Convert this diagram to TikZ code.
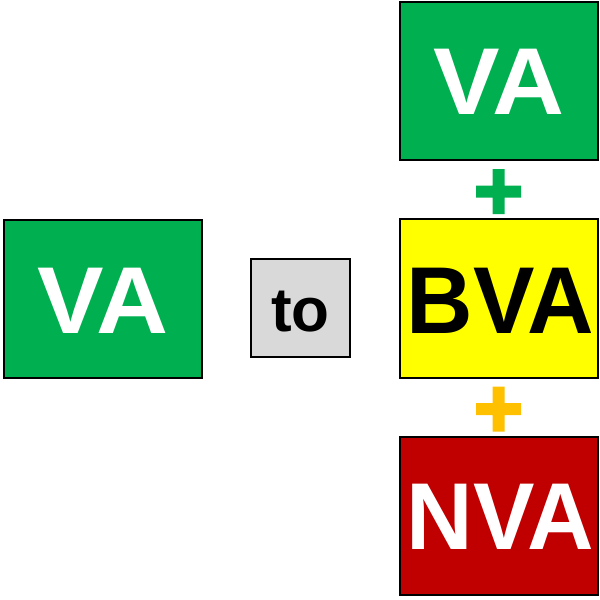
\documentclass[tikz,border=0pt]{standalone}
\usepackage{fontspec}
\setmainfont{Liberation Sans}
\definecolor{vagreen}{HTML}{00B050}
\definecolor{bvayellow}{HTML}{FFFF00}
\definecolor{nvared}{HTML}{C00000}
\definecolor{togray}{HTML}{D9D9D9}
\definecolor{plusorange}{HTML}{FFC000}
\begin{document}
\begin{tikzpicture}[x=1pt,y=-1pt,
  box/.style={draw=black,line width=2pt},
  bigtxt/.style={anchor=base,inner sep=0pt,font=\fontsize{95}{95}\selectfont\bfseries},
  totxt/.style={anchor=base,inner sep=0pt,font=\fontsize{62}{62}\selectfont\bfseries}]
\useasboundingbox (0,0) rectangle (600,600);
% boxes
\path[box,fill=vagreen] (4,220) rectangle (202,378);
\path[box,fill=togray] (251,259) rectangle (350,357);
\path[box,fill=vagreen] (400,2) rectangle (598,160);
\path[box,fill=bvayellow] (400,219) rectangle (598,378);
\path[box,fill=nvared] (400,437) rectangle (598,595);
% texts
\node[bigtxt,text=white,xscale=1.05] (va1) at (103,333) {VA};
\node[totxt,text=black] (to) at (300.5,331) {to};
\node[bigtxt,text=white,xscale=1.05] (va2) at (499,114) {VA};
\node[bigtxt,text=black,xscale=0.97] (bva) at (500.5,333) {BVA};
\node[bigtxt,text=white,xscale=0.97] (nva) at (500.5,549) {NVA};
% plus signs
\fill[vagreen] (476,185.5) rectangle (521,197.5) (492.5,169) rectangle (504.5,214);
\fill[plusorange] (476,403) rectangle (521,415) (492.5,386.5) rectangle (504.5,431.5);
\end{tikzpicture}
\end{document}
